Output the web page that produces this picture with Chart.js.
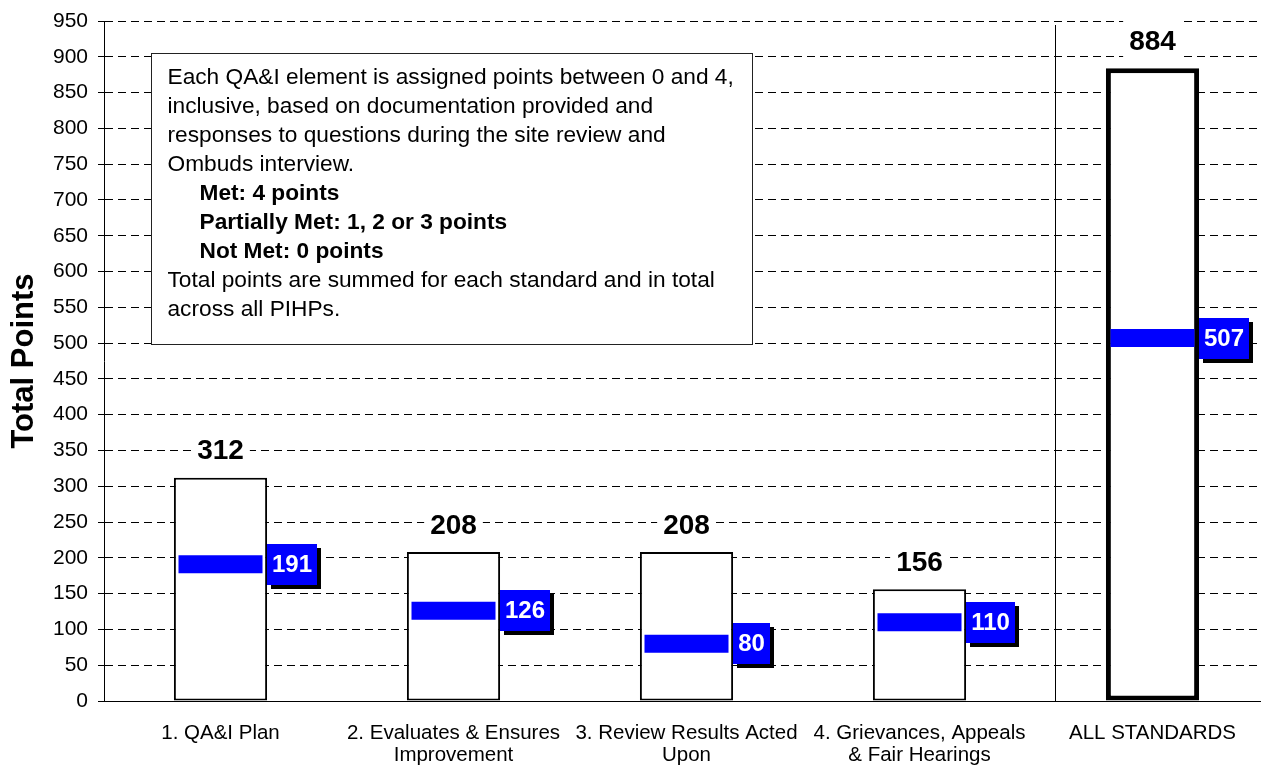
<!DOCTYPE html>
<html>
<head>
<meta charset="utf-8">
<title>QA&amp;I points by standard</title>
<script src="https://cdn.jsdelivr.net/npm/chart.js@4.4.1/dist/chart.umd.min.js"></script>
<style>
  html, body { margin: 0; padding: 0; background: #fff; overflow: hidden; }
  #wrap { width: 1261px; height: 768px; overflow: hidden; }
  canvas { display: block; }
</style>
</head>
<body>
<div id="wrap"><canvas id="chart" width="1270" height="768"></canvas></div>
<script>
const FONT = "'Liberation Sans', Arial, Helvetica, sans-serif";

// standards reviewed, possible points and points actually earned
const categories = [
  '1. QA&I Plan',
  ['2. Evaluates & Ensures', 'Improvement'],
  ['3. Review Results Acted', 'Upon'],
  ['4. Grievances, Appeals', '& Fair Hearings'],
  'ALL STANDARDS'
];
const possiblePoints = [312, 208, 208, 156, 884];
const earnedPoints = [191, 126, 80, 110, 507];

// y axis range / step
const yMin = 0;
const yMax = 950;
const yStep = 50;

// divider between the four standards and the overall total (category units)
const dividerAt = 3.58;

const noteLines = [
  { text: 'Each QA&I element is assigned points between 0 and 4,', bold: false },
  { text: 'inclusive, based on documentation provided and', bold: false },
  { text: 'responses to questions during the site review and', bold: false },
  { text: 'Ombuds interview.', bold: false },
  { text: 'Met: 4 points', bold: true },
  { text: 'Partially Met: 1, 2 or 3 points', bold: true },
  { text: 'Not Met: 0 points', bold: true },
  { text: 'Total points are summed for each standard and in total', bold: false },
  { text: 'across all PIHPs.', bold: false }
];

// line controller for the earned-points markers; the wide markers sit inside
// the bars, so they should not reserve extra room around the plot
class MarkerController extends Chart.LineController {
  getMaxOverflow() { return 0; }
}
MarkerController.id = 'marker';
MarkerController.defaults = { ...Chart.LineController.defaults };
Chart.register(MarkerController);

// keep the plot box fixed: no extra room for overhanging labels
const noPadding = s => {
  s.paddingLeft = 0;
  s.paddingRight = 0;
  s.paddingTop = 0;
  s.paddingBottom = 0;
};

// divider line and the scoring note, drawn over the grid but under the bars
const backdrop = {
  id: 'backdrop',
  beforeDatasetsDraw(chart) {
    const { ctx, chartArea: a, scales: { x } } = chart;
    ctx.save();
    const dx = Math.round(x.getPixelForValue(dividerAt)) + 0.5;
    ctx.strokeStyle = '#000';
    ctx.lineWidth = 1;
    ctx.beginPath();
    ctx.moveTo(dx, a.top + 4);
    ctx.lineTo(dx, a.bottom);
    ctx.stroke();

    const bx = a.left + 47.5, by = a.top + 32.5, bw = 601, bh = 291;
    ctx.fillStyle = '#fff';
    ctx.fillRect(bx, by, bw, bh);
    ctx.strokeStyle = '#222';
    ctx.strokeRect(bx, by, bw, bh);
    ctx.fillStyle = '#000';
    ctx.textAlign = 'left';
    ctx.textBaseline = 'alphabetic';
    noteLines.forEach((ln, i) => {
      ctx.font = (ln.bold ? 'bold ' : '') + '22.7px ' + FONT;
      ctx.fillText(ln.text, bx + 16 + (ln.bold ? 32 : 0), by + 30 + i * 29);
    });
    ctx.restore();
  }
};

// totals above the bars and the blue tags with earned points
const valueLabels = {
  id: 'valueLabels',
  afterDatasetsDraw(chart) {
    const { ctx } = chart;
    const bars = chart.getDatasetMeta(0).data;
    const marks = chart.getDatasetMeta(1).data;
    ctx.save();
    ctx.textAlign = 'center';
    ctx.textBaseline = 'middle';
    bars.forEach((bar, i) => {
      const total = String(possiblePoints[i]);
      ctx.font = 'bold 28px ' + FONT;
      const tw = ctx.measureText(total).width;
      const ty = bar.y - 27;
      ctx.fillStyle = '#fff';
      ctx.fillRect(bar.x - tw / 2 - 6, ty - 21, tw + 12, 42);
      ctx.fillStyle = '#000';
      ctx.fillText(total, bar.x, ty + 1);

      const earned = String(earnedPoints[i]);
      ctx.font = 'bold 24px ' + FONT;
      const w = Math.round(ctx.measureText(earned).width + 10);
      const h = 41;
      const left = Math.round(bar.x + bar.width / 2);
      const top = Math.round(marks[i].y - h / 2);
      ctx.fillStyle = '#000';
      ctx.fillRect(left + 4, top + 4, w, h);
      ctx.fillStyle = '#0000ff';
      ctx.fillRect(left, top, w, h);
      ctx.fillStyle = '#fff';
      ctx.fillText(earned, left + w / 2, top + h / 2 + 1);
    });
    ctx.restore();
  }
};

new Chart(document.getElementById('chart'), {
  type: 'bar',
  data: {
    labels: categories,
    datasets: [
      {
        type: 'bar',
        label: 'Possible points',
        data: possiblePoints,
        backgroundColor: '#fff',
        borderColor: '#000',
        borderWidth: [2, 2, 2, 2, 5],
        borderSkipped: false,
        barPercentage: 0.4,
        categoryPercentage: 1,
        order: 1
      },
      {
        type: 'marker',
        label: 'Points earned',
        data: earnedPoints,
        showLine: false,
        pointStyle: 'line',
        pointRadius: 42,
        pointHoverRadius: 42,
        pointBorderWidth: 18,
        pointHoverBorderWidth: 18,
        pointBorderColor: '#0000ff',
        pointBackgroundColor: '#0000ff',
        order: 0
      }
    ]
  },
  options: {
    responsive: false,
    animation: false,
    devicePixelRatio: 1,
    events: [],
    layout: { padding: { top: 21, right: 1, left: 0, bottom: 0 } },
    plugins: {
      legend: { display: false },
      tooltip: { enabled: false }
    },
    scales: {
      x: {
        grid: { display: false },
        border: { display: true, color: '#000', width: 1 },
        ticks: {
          color: '#000',
          font: { family: FONT, size: 20.5, lineHeight: 1.08 },
          padding: 13,
          maxRotation: 0,
          autoSkip: false
        },
        afterFit: s => { s.height = 67; noPadding(s); }
      },
      y: {
        min: yMin,
        max: yMax,
        ticks: {
          stepSize: yStep,
          color: '#000',
          font: { family: FONT, size: 21 },
          padding: 10
        },
        grid: { color: '#000', lineWidth: 1, tickLength: 6, tickBorderDash: [] },
        border: { display: true, color: '#000', width: 1, dash: [8, 5] },
        title: {
          display: true,
          text: 'Total Points',
          color: '#000',
          font: { family: FONT, size: 31, weight: 'bold' },
          padding: { top: 6, bottom: 0 }
        },
        afterFit: s => { s.width = 104; noPadding(s); }
      }
    }
  },
  plugins: [backdrop, valueLabels]
});
</script>
</body>
</html>
